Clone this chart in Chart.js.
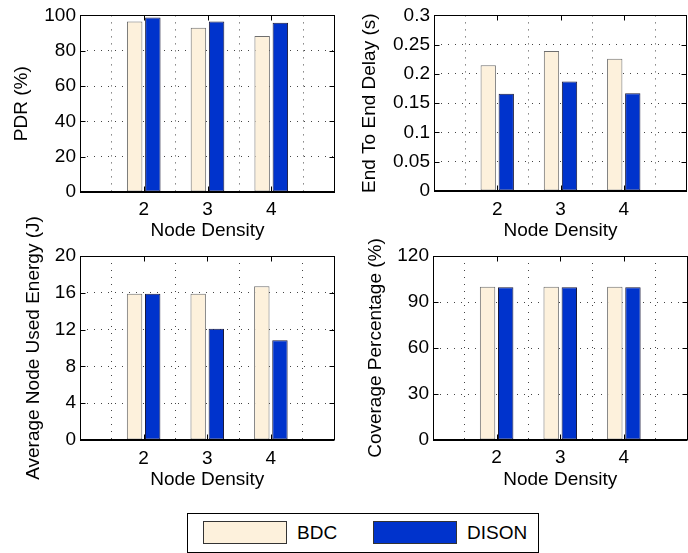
<!DOCTYPE html>
<html>
<head>
<meta charset="utf-8">
<script src="https://cdn.jsdelivr.net/npm/chart.js@4.4.1/dist/chart.umd.min.js"></script>
<style>
  body { margin: 0; width: 688px; height: 553px; overflow: hidden; background: #fff; position: relative;
         font-family: "Liberation Sans", Arial, Helvetica, sans-serif; }
  canvas { position: absolute; }
  #legend { position: absolute; left: 187px; top: 513px; width: 350px; height: 38px; border: 1px solid #000; }
  #legend .swatch { position: absolute; top: 7px; width: 82px; height: 21px; border: 1px solid #333; }
  #legend .lbl { position: absolute; top: 9px; font-size: 19px; line-height: 19px; color: #000; }
</style>
</head>
<body>
<canvas id="pdr" width="344" height="250" style="left:0;top:0"></canvas>
<canvas id="delay" width="352" height="250" style="left:344px;top:0"></canvas>
<canvas id="energy" width="344" height="310" style="left:0;top:190px"></canvas>
<canvas id="coverage" width="352" height="310" style="left:344px;top:190px"></canvas>
<div id="legend"></div>
<script>
// node densities shown on the x axis (axis runs from 1 to 5)
const densities = ['2', '3', '4'];
const seriesNames = ['BDC', 'DISON'];

const pdrBdc = [96.5, 93, 88.3];
const pdrDison = [98.8, 96.5, 95.8];
const pdrTicks = [0, 20, 40, 60, 80, 100];

const delayBdc = [0.215, 0.239, 0.226];
const delayDison = [0.166, 0.187, 0.167];
const delayTicks = [0, 0.05, 0.1, 0.15, 0.2, 0.25, 0.3];

const energyBdc = [15.9, 15.9, 16.7];
const energyDison = [15.9, 12.1, 10.85];
const energyTicks = [0, 4, 8, 12, 16, 20];

const coverageBdc = [100, 100, 100];
const coverageDison = [99.7, 99.7, 99.7];
const coverageTicks = [0, 30, 60, 90, 120];

const fills = ['#FDF1DC', '#0033CC'];
const edges = ['#6e6e6e', '#1a1a3a'];

Chart.defaults.font.family = '"Liberation Sans", Arial, Helvetica, sans-serif';
Chart.defaults.font.size = 19;
Chart.defaults.color = '#000';

// matlab style box with inward tick marks
const boxPlugin = {
  id: 'box',
  afterDatasetsDraw(chart) {
    const { ctx, chartArea: a, scales } = chart;
    const l = Math.round(a.left) + 0.5;
    const r = Math.round(a.right) - 0.5;
    const t = Math.round(a.top) + 0.5;
    const b = Math.round(a.bottom) - 0.5;
    ctx.save();
    ctx.strokeStyle = '#000';
    ctx.lineWidth = 1;
    ctx.strokeRect(l, t, r - l, b - t);
    ctx.beginPath();
    const xt = scales.x.ticks;
    for (let i = 1; i < xt.length - 1; i += 1) {
      const x = Math.round(scales.x.getPixelForTick(i)) + 0.5;
      ctx.moveTo(x, b); ctx.lineTo(x, b - 5);
      ctx.moveTo(x, t); ctx.lineTo(x, t + 5);
    }
    const yt = scales.y.ticks;
    for (let i = 1; i < yt.length - 1; i += 1) {
      const y = Math.round(scales.y.getPixelForTick(i)) + 0.5;
      ctx.moveTo(l, y); ctx.lineTo(l + 5, y);
      ctx.moveTo(r, y); ctx.lineTo(r - 5, y);
    }
    ctx.stroke();
    ctx.lineWidth = 2;
    ctx.beginPath();
    ctx.moveTo(a.left, Math.round(a.bottom));
    ctx.lineTo(a.right, Math.round(a.bottom));
    ctx.stroke();
    ctx.restore();
  },
};

function makeChart(id, bdc, dison, ticks, yTitle, lay) {
  const ctx = document.getElementById(id).getContext('2d');
  const labels = ['', ...densities, ''];
  return new Chart(ctx, {
    type: 'bar',
    data: {
      labels,
      datasets: [bdc, dison].map((vals, k) => ({
        label: seriesNames[k],
        data: [null, ...vals, null],
        backgroundColor: fills[k],
        borderColor: edges[k],
        borderWidth: 1,
        borderSkipped: false,
        barPercentage: 0.85,
        categoryPercentage: 0.57,
      })),
    },
    options: {
      responsive: false,
      animation: false,
      devicePixelRatio: 1,
      layout: { padding: { top: lay.top, right: lay.right, left: 0, bottom: 0 } },
      plugins: { legend: { display: false }, tooltip: { enabled: false } },
      scales: {
        x: {
          offset: false,
          grid: { color: '#444', drawTicks: false },
          border: { display: false, dash: [1, 6] },
          ticks: { padding: lay.xTickPad, maxRotation: 0, autoSkip: false, font: { lineHeight: 1 } },
          title: { display: true, text: 'Node Density', font: { lineHeight: 1 }, padding: { top: 0, bottom: lay.xTitlePad } },
          afterFit: (s) => { s.height = lay.xHeight; },
        },
        y: {
          min: ticks[0],
          max: ticks[ticks.length - 1],
          grid: { color: '#444', drawTicks: false },
          border: { display: false, dash: [1, 6] },
          afterBuildTicks: (s) => { s.ticks = ticks.map((v) => ({ value: v })); },
          ticks: { padding: 4, callback: (v) => String(v) },
          title: { display: true, text: yTitle, font: { lineHeight: 1 }, padding: { top: lay.yTitlePad, bottom: 0 } },
          afterFit: (s) => { s.width = lay.yWidth; },
        },
      },
    },
    plugins: [boxPlugin],
  });
}

makeChart('pdr', pdrBdc, pdrDison, pdrTicks, 'PDR (%)',
  { top: 14, right: 9, yWidth: 80, xHeight: 58, yTitlePad: 12.5, xTickPad: 8.5, xTitlePad: 10 });
makeChart('delay', delayBdc, delayDison, delayTicks, 'End To End Delay (s)',
  { top: 13, right: 3, yWidth: 90, xHeight: 59, yTitlePad: 16, xTickPad: 9, xTitlePad: 10 });
makeChart('energy', energyBdc, energyDison, energyTicks, 'Average Node Used Energy (J)',
  { top: 66, right: 9, yWidth: 80, xHeight: 60, yTitlePad: 24, xTickPad: 9.5, xTitlePad: 10.5 });
makeChart('coverage', coverageBdc, coverageDison, coverageTicks, 'Coverage Percentage (%)',
  { top: 66, right: 7, yWidth: 89, xHeight: 60, yTitlePad: 22.5, xTickPad: 8.5, xTitlePad: 10.5 });

// legend
const legend = document.getElementById('legend');
const swatchLeft = [15, 185];
const labelLeft = [109, 279];
seriesNames.forEach((name, k) => {
  const sw = document.createElement('span');
  sw.className = 'swatch';
  sw.style.left = `${swatchLeft[k]}px`;
  sw.style.background = fills[k];
  legend.appendChild(sw);
  const lb = document.createElement('span');
  lb.className = 'lbl';
  lb.style.left = `${labelLeft[k]}px`;
  lb.textContent = name;
  legend.appendChild(lb);
});
</script>
</body>
</html>
